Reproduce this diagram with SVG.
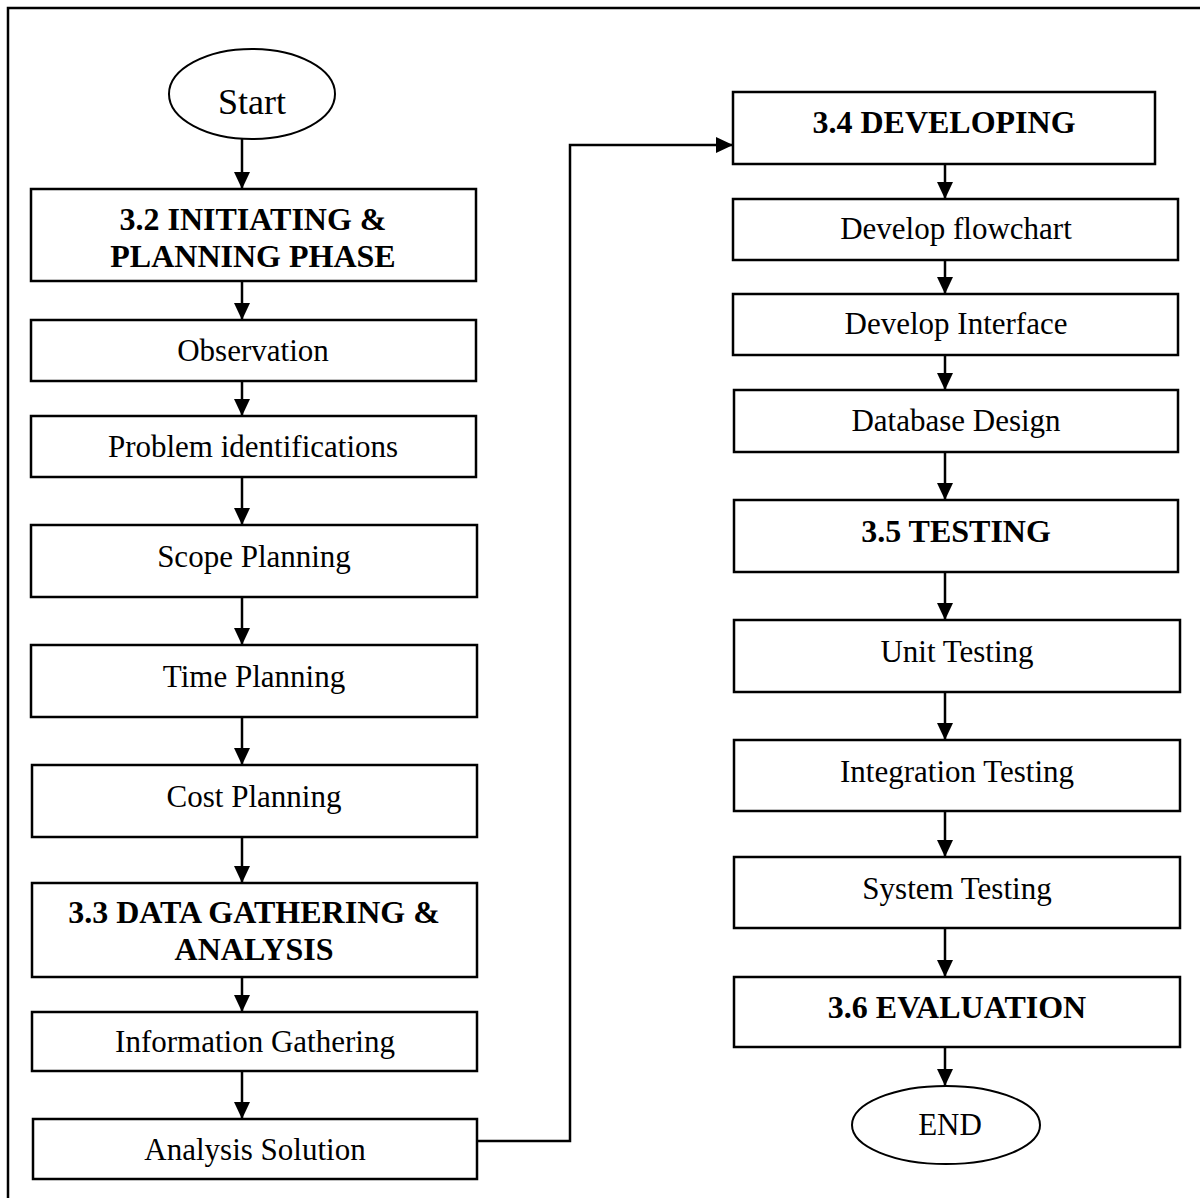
<svg xmlns="http://www.w3.org/2000/svg" width="1200" height="1198" viewBox="0 0 1200 1198">
  <style>
    .box { fill: #fff; stroke: #000; stroke-width: 2.5; }
    .oval { fill: #fff; stroke: #000; stroke-width: 2; }
    .t { font-family: "Liberation Serif", "Times New Roman", serif; font-size: 31px; fill: #000; text-anchor: middle; }
    .b { font-weight: bold; font-size: 32px; }
    .edge { fill: none; stroke: #000; stroke-width: 2.5; marker-end: url(#arrow); }
    .frame { fill: none; stroke: #000; stroke-width: 2.5; }
  </style>
  <defs>
    <marker id="arrow" markerUnits="userSpaceOnUse" markerWidth="17" markerHeight="16" refX="17" refY="8" orient="auto">
      <path d="M0,0 L17,8 L0,16 Z" fill="#000"/>
    </marker>
  </defs>
  <rect width="1200" height="1198" fill="#fff"/>

  <!-- page frame (top and left edges) -->
  <path class="frame" d="M8,1198 V8 H1200"/>

  <!-- left column -->
  <g id="start">
    <ellipse class="oval" cx="252" cy="94" rx="83" ry="45"/>
    <text class="t" x="252" y="114" style="font-size:36px">Start</text>
  </g>
  <g id="initiating">
    <rect class="box" x="31" y="189" width="445" height="92"/>
    <text class="t b" x="253" y="230">3.2 INITIATING &amp;</text>
    <text class="t b" x="253" y="267">PLANNING PHASE</text>
  </g>
  <g id="observation">
    <rect class="box" x="31" y="320" width="445" height="61"/>
    <text class="t" x="253" y="361">Observation</text>
  </g>
  <g id="problem">
    <rect class="box" x="31" y="416" width="445" height="61"/>
    <text class="t" x="253" y="457">Problem identifications</text>
  </g>
  <g id="scope">
    <rect class="box" x="31" y="525" width="446" height="72"/>
    <text class="t" x="254" y="567">Scope Planning</text>
  </g>
  <g id="time">
    <rect class="box" x="31" y="645" width="446" height="72"/>
    <text class="t" x="254" y="687">Time Planning</text>
  </g>
  <g id="cost">
    <rect class="box" x="32" y="765" width="445" height="72"/>
    <text class="t" x="254" y="807">Cost Planning</text>
  </g>
  <g id="data-gathering">
    <rect class="box" x="32" y="883" width="445" height="94"/>
    <text class="t b" x="254" y="923">3.3 DATA GATHERING &amp;</text>
    <text class="t b" x="254" y="960">ANALYSIS</text>
  </g>
  <g id="information">
    <rect class="box" x="32" y="1012" width="445" height="59"/>
    <text class="t" x="255" y="1052">Information Gathering</text>
  </g>
  <g id="analysis">
    <rect class="box" x="33" y="1119" width="444" height="60"/>
    <text class="t" x="255" y="1160">Analysis Solution</text>
  </g>

  <!-- right column -->
  <g id="developing">
    <rect class="box" x="733" y="92" width="422" height="72"/>
    <text class="t b" x="944" y="133">3.4 DEVELOPING</text>
  </g>
  <g id="flowchart">
    <rect class="box" x="733" y="199" width="445" height="61"/>
    <text class="t" x="956" y="239">Develop flowchart</text>
  </g>
  <g id="interface">
    <rect class="box" x="733" y="294" width="445" height="61"/>
    <text class="t" x="956" y="334">Develop Interface</text>
  </g>
  <g id="database">
    <rect class="box" x="734" y="390" width="444" height="62"/>
    <text class="t" x="956" y="431">Database Design</text>
  </g>
  <g id="testing">
    <rect class="box" x="734" y="500" width="444" height="72"/>
    <text class="t b" x="956" y="542">3.5 TESTING</text>
  </g>
  <g id="unit">
    <rect class="box" x="734" y="620" width="446" height="72"/>
    <text class="t" x="957" y="662">Unit Testing</text>
  </g>
  <g id="integration">
    <rect class="box" x="734" y="740" width="446" height="71"/>
    <text class="t" x="957" y="782">Integration Testing</text>
  </g>
  <g id="system">
    <rect class="box" x="734" y="857" width="446" height="71"/>
    <text class="t" x="957" y="899">System Testing</text>
  </g>
  <g id="evaluation">
    <rect class="box" x="734" y="977" width="446" height="70"/>
    <text class="t b" x="957" y="1018">3.6 EVALUATION</text>
  </g>
  <g id="end">
    <ellipse class="oval" cx="946" cy="1125" rx="94" ry="39"/>
    <text class="t" x="950" y="1135">END</text>
  </g>

  <!-- connectors -->
  <g id="connectors">
    <path class="edge" d="M242,139 V189"/>
    <path class="edge" d="M242,281 V320"/>
    <path class="edge" d="M242,381 V416"/>
    <path class="edge" d="M242,477 V525"/>
    <path class="edge" d="M242,597 V645"/>
    <path class="edge" d="M242,717 V765"/>
    <path class="edge" d="M242,837 V883"/>
    <path class="edge" d="M242,977 V1012"/>
    <path class="edge" d="M242,1071 V1119"/>
    <path class="edge" d="M477,1141 H570 V145 H733"/>
    <path class="edge" d="M945,164 V199"/>
    <path class="edge" d="M945,260 V294"/>
    <path class="edge" d="M945,355 V390"/>
    <path class="edge" d="M945,452 V500"/>
    <path class="edge" d="M945,572 V620"/>
    <path class="edge" d="M945,692 V740"/>
    <path class="edge" d="M945,811 V857"/>
    <path class="edge" d="M945,928 V977"/>
    <path class="edge" d="M945,1047 V1086"/>
  </g>
</svg>
